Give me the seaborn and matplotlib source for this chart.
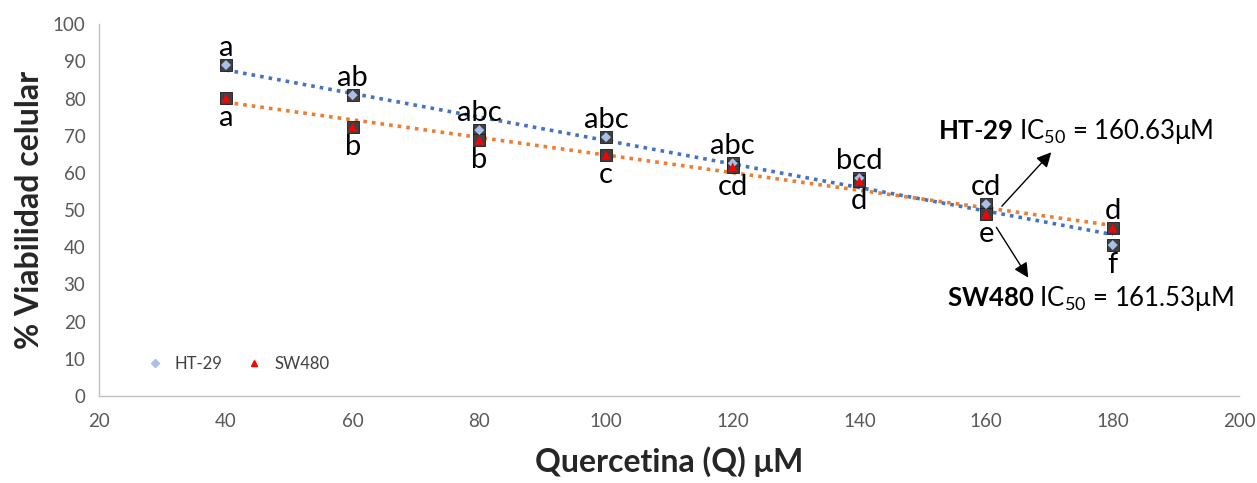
import numpy as np
import pandas as pd
import matplotlib
matplotlib.use('Agg')
import matplotlib.pyplot as plt
import seaborn as sns
from matplotlib.lines import Line2D

# ==================== DATA ====================
quercetina = [40, 60, 80, 100, 120, 140, 160, 180]
ht29 = [89.0, 80.9, 71.5, 69.6, 62.6, 58.6, 51.6, 40.6]
sw480 = [80.1, 72.3, 68.8, 64.8, 61.6, 57.8, 48.9, 45.2]
ht29_letters = ['a', 'ab', 'abc', 'abc', 'abc', 'bcd', 'cd', 'f']
sw480_letters = ['a', 'b', 'b', 'c', 'cd', 'd', 'e', 'd']
# True -> letter above the point
ht29_above = [True, True, True, True, True, True, True, False]
sw480_above = [False, False, False, False, False, False, False, True]

df = pd.DataFrame({'Q': quercetina, 'HT-29': ht29, 'SW480': sw480})

# ==================== STYLE ====================
sns.set_theme(style='white')
plt.rcParams['font.family'] = ['Lato', 'DejaVu Sans']
plt.rcParams['mathtext.fontset'] = 'custom'
plt.rcParams['mathtext.rm'] = 'Lato'
plt.rcParams['mathtext.bf'] = 'Lato:bold'

fig = plt.figure(figsize=(12.57, 4.83), dpi=100)
ax = fig.add_axes([0.079, 0.180, 0.907, 0.770])

blue = '#4472C4'
orange = '#ED7D31'

# trend lines
sns.regplot(data=df, x='Q', y='HT-29', ax=ax, scatter=False, ci=None,
            line_kws=dict(color=blue, linestyle=(0, (1, 1.4)), linewidth=2.6, zorder=2))
sns.regplot(data=df, x='Q', y='SW480', ax=ax, scatter=False, ci=None,
            line_kws=dict(color=orange, linestyle=(0, (1, 1.4)), linewidth=2.6, zorder=2))

# gray squares behind the markers
for col in ['HT-29', 'SW480']:
    sns.scatterplot(data=df, x='Q', y=col, ax=ax, marker='s', s=80,
                    color='#404040', edgecolor='#1a1a1a', linewidth=0.6, zorder=3, legend=False)
sns.scatterplot(data=df, x='Q', y='HT-29', ax=ax, marker='D', s=26,
                color='#A8C0E8', edgecolor='none', zorder=4, legend=False)
sns.scatterplot(data=df, x='Q', y='SW480', ax=ax, marker='^', s=42,
                color='#FF0000', edgecolor='none', zorder=4, legend=False)

# letters
for xs, ys, labs, ups in [(quercetina, ht29, ht29_letters, ht29_above),
                          (quercetina, sw480, sw480_letters, sw480_above)]:
    for x, y, lab, up in zip(xs, ys, labs, ups):
        ax.annotate(lab, (x, y), xytext=(0, 3 if up else -5), textcoords='offset points',
                    ha='center', va='bottom' if up else 'top', fontsize=21, color='black',
                    zorder=5)

# IC50 annotations
ax.annotate('', xy=(170.6, 66.1), xytext=(162.2, 50.5),
            arrowprops=dict(arrowstyle='-|>', color='black', lw=1, mutation_scale=22))
ax.text(174.2, 67.3, r'$\mathbf{HT\text{-}29}$ IC$_{50}$ = 160.63μM', ha='center', va='bottom',
        fontsize=18.5, color='black')
ax.annotate('', xy=(166.9, 31.2), xytext=(161.4, 46.0),
            arrowprops=dict(arrowstyle='-|>', color='black', lw=1, mutation_scale=22))
ax.text(176.5, 22.3, r'$\mathbf{SW480}$ IC$_{50}$ = 161.53μM', ha='center', va='bottom',
        fontsize=18.5, color='black')

# axes
ax.set_xlim(20, 200)
ax.set_ylim(0, 100)
ax.set_xticks(range(20, 201, 20))
ax.set_yticks(range(0, 101, 10))
ax.tick_params(axis='both', length=0, labelsize=13.5, labelcolor='#595959')
ax.tick_params(axis='x', pad=12)
ax.tick_params(axis='y', pad=10)
ax.set_xlabel('Quercetina (Q) μM', fontsize=23, fontweight='bold', labelpad=12)
ax.set_ylabel('% Viabilidad celular', fontsize=23, fontweight='bold', labelpad=6)
sns.despine(ax=ax)
for side in ['left', 'bottom']:
    ax.spines[side].set_color('#BFBFBF')
    ax.spines[side].set_linewidth(1)

handles = [Line2D([], [], marker='D', color='#A8C0E8', linestyle='none', markersize=4),
           Line2D([], [], marker='^', color='#FF0000', linestyle='none', markersize=5)]
ax.legend(handles, ['HT-29', 'SW480'], loc='lower left', bbox_to_anchor=(0.021, 0.025),
          ncol=2, frameon=False, fontsize=12, handletextpad=0.2, columnspacing=0.9,
          labelcolor='#404040')

plt.savefig('out.png', dpi=100)
plt.close()
